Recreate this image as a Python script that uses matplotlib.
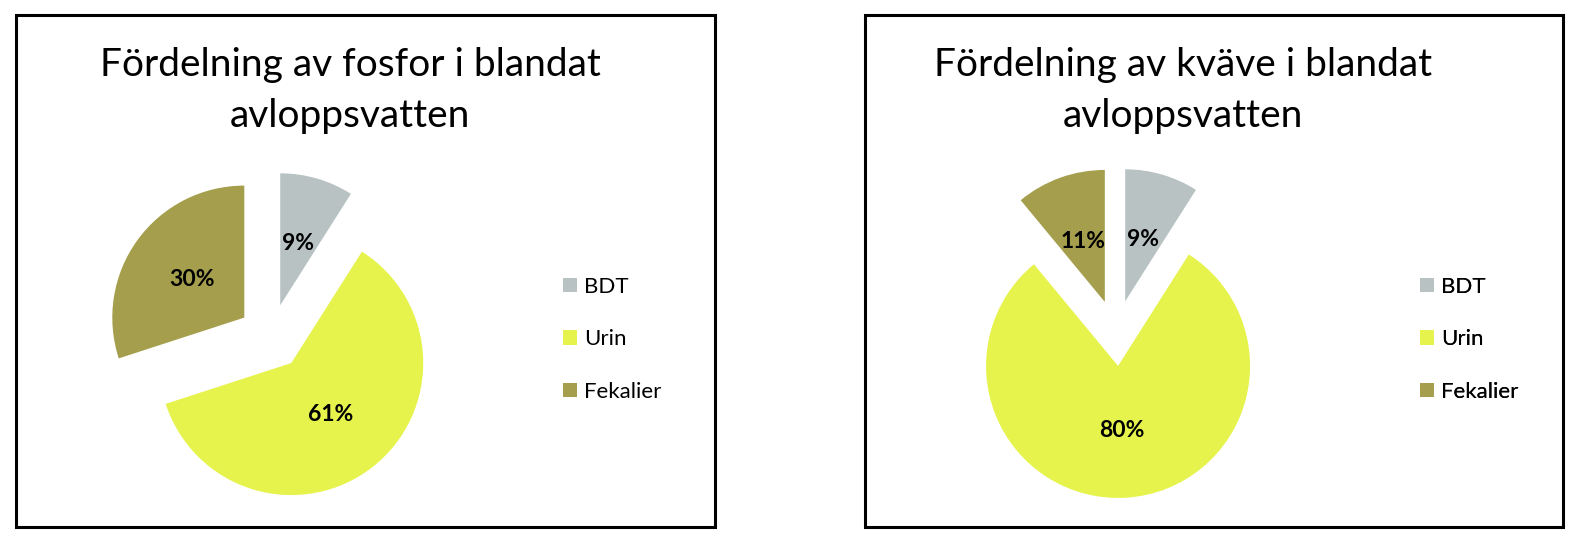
import matplotlib
matplotlib.use("Agg")
import matplotlib.pyplot as plt
from matplotlib.patches import Rectangle, Patch

plt.rcParams['font.family'] = ['Lato', 'DejaVu Sans']

categories = ["BDT", "Urin", "Fekalier"]
fosfor = [9, 61, 30]
kvave = [9, 80, 11]
title_fosfor = ["Fördelning av fosfor i blandat", "avloppsvatten"]
title_kvave = ["Fördelning av kväve i blandat", "avloppsvatten"]
colors = ["#B8C2C2", "#E6F34C", "#A59F4D"]

W, H = 1591, 544
fig = plt.figure(figsize=(W / 100, H / 100), dpi=100)
ax = fig.add_axes([0, 0, 1, 1])

def Y(py):
    return H - py

# panel boxes
for x0, x1 in [(16, 715), (865, 1563)]:
    ax.add_patch(Rectangle((x0, Y(527)), x1 - x0, 527 - 15, fill=False,
                           edgecolor='black', linewidth=2.2, zorder=0))

R = 132
panels = [
    (fosfor, title_fosfor, (271, 337), 350, 563),
    (kvave, title_kvave, (1116, 333), 1183, 1420),
]
for vals, title, (cx, cy), tx, lx in panels:
    wedges, texts, autotexts = ax.pie(
        vals, colors=colors, startangle=90, counterclock=False,
        explode=[0.25 * R] * len(vals), radius=R, center=(cx, Y(cy)),
        autopct='%d%%', pctdistance=0.49, frame=True,
        textprops=dict(fontsize=16.5, color='black', fontweight='bold'),
        wedgeprops=dict(linewidth=0))
    ax.text(tx, Y(76), title[0], ha='center', va='baseline', fontsize=28)
    ax.text(tx, Y(127), title[1], ha='center', va='baseline', fontsize=28)
    handles = [Patch(facecolor=c, edgecolor='none') for c in colors]
    leg = ax.legend(handles, categories, loc='upper left',
                    bbox_to_anchor=(lx, Y(277)), bbox_transform=ax.transData,
                    frameon=False, fontsize=16, handlelength=0.63,
                    handleheight=0.63, handletextpad=0.32, labelspacing=1.46,
                    borderpad=0, borderaxespad=0)
    ax.add_artist(leg)

ax.set_xlim(0, W)
ax.set_ylim(0, H)
ax.set_aspect('equal')
ax.axis('off')
fig.savefig("out.png", dpi=100)
